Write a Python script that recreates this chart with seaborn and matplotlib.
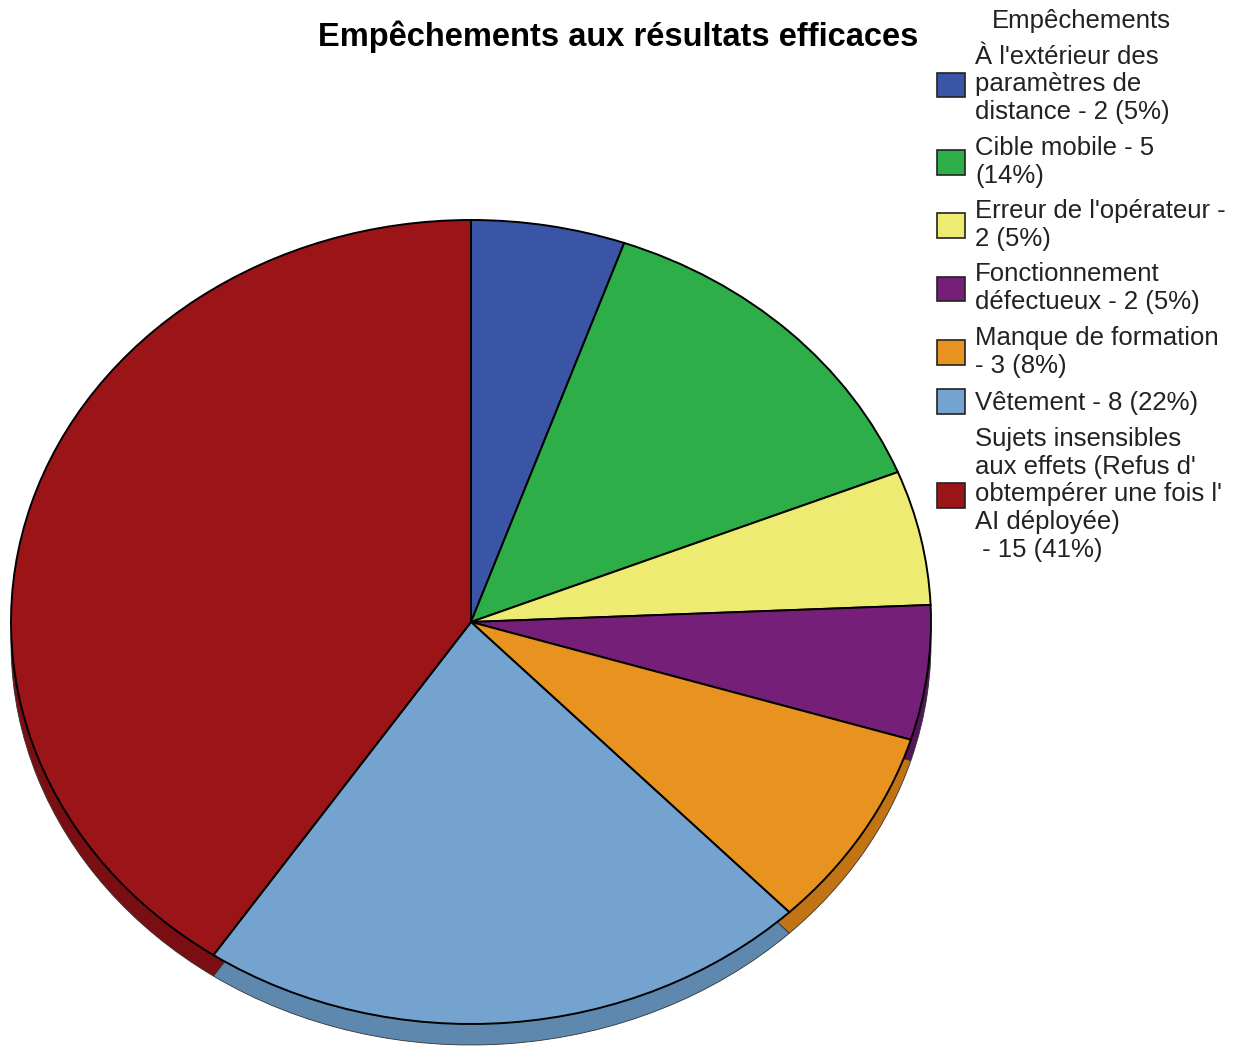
import matplotlib
matplotlib.use("Agg")
import matplotlib.pyplot as plt
import matplotlib.patches as mpatches
import seaborn as sns
import numpy as np

sns.set_theme(style="white")
plt.rcParams['font.family'] = ['Liberation Sans', 'DejaVu Sans']

title = "Empêchements aux résultats efficaces"
legend_title = "Empêchements"
categories = [
    "À l'extérieur des paramètres de distance",
    "Cible mobile",
    "Erreur de l'opérateur",
    "Fonctionnement défectueux",
    "Manque de formation",
    "Vêtement",
    "Sujets insensibles aux effets (Refus d' obtempérer une fois l' AI déployée)",
]
values = [2, 5, 2, 2, 3, 8, 15]
legend_labels = [
    "À l'extérieur des\nparamètres de\ndistance - 2 (5%)",
    "Cible mobile - 5\n(14%)",
    "Erreur de l'opérateur -\n2 (5%)",
    "Fonctionnement\ndéfectueux - 2 (5%)",
    "Manque de formation\n- 3 (8%)",
    "Vêtement - 8 (22%)",
    "Sujets insensibles\naux effets (Refus d'\nobtempérer une fois l'\nAI déployée)\n - 15 (41%)",
]
colors = ["#3A55A5", "#2EAE48", "#EEEB72", "#761F78", "#E8921F", "#74A3CF", "#9B1418"]
side_colors = ["#2A3F7C", "#22843A", "#B8B455", "#54145A", "#C27414", "#5E88AE", "#7A0E12"]

W, H = 1239, 1051
fig = plt.figure(figsize=(W / 100, H / 100), dpi=100)

# pie geometry in pixels
left_px, right_px = 11, 931
top_px, bottom_face_px = 220, 1024
ry_px = (bottom_face_px - top_px) / 2
depth = 21 / ry_px
ybot = -1.0 - depth - 0.012
bottom_px = bottom_face_px + (-1.0 - ybot) * ry_px

ax = fig.add_axes([left_px / W, (H - bottom_px) / H,
                   (right_px - left_px) / W, (bottom_px - top_px) / H])

# side wall (3D depth)
wedges_side, _ = ax.pie(values, colors=side_colors, startangle=90, counterclock=False,
                        center=(0, -depth), radius=1.0,
                        wedgeprops=dict(edgecolor="#333333", linewidth=0.6))
for w in wedges_side:
    w.set_zorder(1)
    w.set_clip_on(False)

wedges, _ = ax.pie(values, colors=colors, startangle=90, counterclock=False,
                   center=(0, 0), radius=1.0,
                   wedgeprops=dict(edgecolor="black", linewidth=1.4))
for w in wedges:
    w.set_zorder(2)
    w.set_clip_on(False)

ax.set_aspect('auto')
ax.set_xlim(-1, 1)
ax.set_ylim(ybot, 1)
ax.axis('off')

fig.text(618 / W, 1 - 37 / H, title, ha='center', va='center',
         fontsize=23.5, fontweight='bold', color='black')

handles = [mpatches.Patch(facecolor=c, edgecolor='#222222', linewidth=1.2) for c in colors]
leg = fig.legend(handles, legend_labels, title=legend_title, loc='upper left',
                 bbox_to_anchor=(937 / W, 1 - 9 / H), frameon=False,
                 fontsize=18.5, title_fontsize=18.5, handlelength=1.1, handleheight=1.1,
                 handletextpad=0.38, labelspacing=0.45, borderaxespad=0, borderpad=0)
for t in leg.get_texts():
    t.set_color('#222222')
leg.get_title().set_color('#222222')

fig.savefig("out.png", dpi=100, facecolor='white')
